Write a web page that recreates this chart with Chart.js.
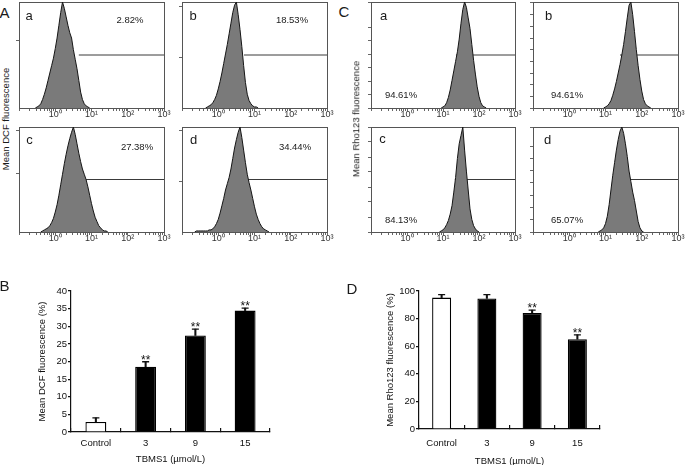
<!DOCTYPE html>
<html><head><meta charset="utf-8">
<script src="https://cdn.jsdelivr.net/npm/chart.js@4.4.1/dist/chart.umd.min.js"></script>
<style>
html,body{margin:0;padding:0;background:#fff;}
body{width:685px;height:465px;position:relative;overflow:hidden;font-family:"Liberation Sans",Arial,sans-serif;color:#1a1a1a;}
canvas.cv{position:absolute;}
.t{position:absolute;white-space:nowrap;transform:translateX(-50%);}
.r{position:absolute;white-space:nowrap;transform:translate(-50%,-50%) rotate(-90deg);line-height:1;}
</style></head><body>
<script>
// ---------- DATA ----------
const BIN_STEP = 0.05;           // histogram bin width (log10 decades)
const GATE_LEVEL = 50;           // height of the gate marker (% of peak)

// DCF histograms (counts, % of peak) and the log10 value of their first bin
const dcf_a = [0,1,2,4,8,13,19,26,33,40,47,56,66,78,90,100,94,86,78,71,66,55,46,37,26,15,8,4,2,1,0];
const dcf_b = [0,1,2,3,5,8,12,18,25,33,42,51,60,70,80,90,97,100,88,74,58,40,24,13,7,4,2,1,1,0];
const dcf_c = [0,1,2,3,4,6,9,13,19,26,35,45,55,65,74,82,89,95,100,93,84,75,67,60,55,50,43,35,27,20,14,10,6,4,2,1,1,0];
const dcf_d = [0,1,1,1,1,1,1,1,2,2,3,5,8,12,18,25,32,40,46,52,60,70,80,88,95,100,90,78,66,55,47,40,32,24,17,12,8,5,3,2,1,0];
const dcfStart = [-0.55, -0.35, -0.4, -0.65];
const dcfGate = [0.65, 0.71, 0.78, 0.79];
const dcfPercent = ['2.82%', '18.53%', '27.38%', '34.44%'];
const dcfYTicks = [[64], [48, 96], [56, 97], [48, 97]];

// Rho123 histograms
const rho_a = [0,1,2,5,10,17,26,35,44,53,65,80,93,100,95,85,75,60,45,32,20,11,5,2,1,0];
const rho_b = [0,1,2,4,7,12,18,25,33,41,50,60,72,85,97,100,88,72,55,40,27,16,8,4,2,1,0];
const rho_c = [0,1,2,4,7,11,17,25,38,52,70,84,92,100,78,58,40,22,12,6,3,1,0];
const rho_d = [0,1,2,4,8,15,26,40,54,66,78,88,96,100,94,84,72,58,48,38,30,20,10,4,1,0];
const rhoStart = [0.95, 0.95, 0.9, 0.8];
const rhoGate = [1.36, 1.40, 1.33, 1.40];
const rhoPercent = ['94.61%', '94.61%', '84.13%', '65.07%'];
const rhoYStep = [12.7, 11, 14.3, 11.7];

const panelLetters = ['a', 'b', 'c', 'd'];
const histDecades = [0, 1, 2, 3];

// Bar charts
const groups = ['Control', '3', '9', '15'];
const dcfMean = [2.82, 18.53, 27.38, 34.44];
const dcfErr = [1.2, 1.4, 1.8, 0.7];
const dcfSig = [false, true, true, true];
const rhoMean = [95.2, 94.61, 84.13, 65.07];
const rhoErr = [2.2, 2.8, 2.0, 3.2];
const rhoSig = [false, false, true, true];

// ---------- RENDER ----------
Chart.defaults.font.family = '"Liberation Sans", Arial, sans-serif';
Chart.defaults.color = '#1a1a1a';
Chart.defaults.animation = false;

const SUP = ['⁰', '¹', '²', '³'];
const logTickValues = [];
for (let k = -1; k < 3; k++) for (let m = 1; m < 10; m++) logTickValues.push(k + Math.log10(m));
logTickValues.push(3);

function addText(s, x, baseline, size, extra) {
  const d = document.createElement('div');
  d.className = 't';
  d.textContent = s;
  d.style.fontSize = size + 'px';
  d.style.lineHeight = size + 'px';
  d.style.left = x + 'px';
  d.style.top = (baseline - 0.8465 * size) + 'px';
  if (extra) Object.assign(d.style, extra);
  document.body.appendChild(d);
}
function addRotated(s, x, y, size) {
  const d = document.createElement('div');
  d.className = 'r';
  d.textContent = s;
  d.style.fontSize = size + 'px';
  d.style.left = x + 'px';
  d.style.top = y + 'px';
  document.body.appendChild(d);
}
function makeCanvas(left, top, w, h) {
  const cv = document.createElement('canvas');
  cv.width = w; cv.height = h;
  cv.className = 'cv';
  cv.style.left = left + 'px'; cv.style.top = top + 'px';
  cv.style.width = w + 'px'; cv.style.height = h + 'px';
  document.body.appendChild(cv);
  return cv;
}

function makeHist(box, counts, start, gate, yTicks, yStep) {
  const [L, T, R, B] = box;
  const cv = makeCanvas(L - 6, T - 2, (R - L) + 14, (B - T) + 19);
  const pts = counts.map((c, i) => ({x: start + i * BIN_STEP, y: c}));
  const axisCol = '#555';
  new Chart(cv, {
    type: 'line',
    data: {datasets: [
      {data: pts, borderColor: '#151515', borderWidth: 1, backgroundColor: 'rgb(122,122,122)', fill: 'origin', pointRadius: 0, tension: 0},
      {data: [{x: gate, y: GATE_LEVEL}, {x: 3, y: GATE_LEVEL}], borderColor: '#3a3a3a', borderWidth: 1, pointRadius: 0, fill: false}
    ]},
    options: {
      responsive: false, animation: false, events: [],
      plugins: {legend: {display: false}, tooltip: {enabled: false}},
      layout: {padding: {left: 0, top: 2, right: 8, bottom: 0}},
      scales: {
        x: {type: 'linear', min: -1, max: 3,
          afterBuildTicks: s => { s.ticks = logTickValues.map(v => ({value: v})); },
          ticks: {autoSkip: false, maxRotation: 0, padding: -2, font: {size: 9}, color: '#333',
            callback: v => { const r = Math.round(v); return (Math.abs(v - r) < 1e-6 && histDecades.includes(r)) ? '10' + SUP[r] : ''; }},
          grid: {drawOnChartArea: false, tickLength: 3, color: '#666'},
          border: {color: axisCol, width: 1},
          afterFit: s => { s.height = 17; }},
        y: {min: 0, max: 100,
          afterBuildTicks: s => { if (yTicks) s.ticks = yTicks.map(v => ({value: v})); },
          ticks: {display: false, stepSize: yStep || 50},
          grid: {drawOnChartArea: false, tickLength: 3, color: '#666'},
          border: {color: axisCol, width: 1},
          afterFit: s => { s.width = 6; }},
        x2: {type: 'linear', position: 'top', ticks: {display: false}, grid: {display: false}, border: {color: axisCol, width: 1}, afterFit: s => { s.height = 0; }},
        y2: {type: 'linear', position: 'right', ticks: {display: false}, grid: {display: false}, border: {color: axisCol, width: 1}, afterFit: s => { s.width = 0; }}
      }
    }
  });
}

function makeBar(pos, mean, err, sig, yMax, yStep, yTitle, lay) {
  const cv = makeCanvas(pos[0], pos[1], pos[2], pos[3]);
  const starPlugin = {
    id: 'stars',
    afterDatasetsDraw(chart) {
      const {ctx} = chart; const x = chart.scales.x, y = chart.scales.y;
      ctx.save();
      ctx.font = '12px "Liberation Sans", Arial, sans-serif';
      ctx.textAlign = 'center'; ctx.textBaseline = 'alphabetic'; ctx.fillStyle = '#111';
      sig.forEach((f, i) => { if (f) ctx.fillText('**', x.getPixelForValue(i), y.getPixelForValue(mean[i] + err[i]) + 2); });
      ctx.restore();
    }
  };
  const ink = '#111';
  new Chart(cv, {
    type: 'bar',
    data: {labels: groups, datasets: [
      {type: 'line', data: mean.map((m, i) => m + err[i]), showLine: false, pointStyle: 'line', pointRadius: 3.5, pointBorderWidth: 1.3, pointBorderColor: ink, order: 0},
      {data: mean.map((m, i) => [m, m + err[i]]), backgroundColor: ink, borderWidth: 0, barThickness: 1.4, grouped: false, order: 1},
      {data: mean, backgroundColor: groups.map((g, i) => i === 0 ? '#ffffff' : '#000000'), borderColor: '#000', borderWidth: 1.3, barPercentage: 0.42, categoryPercentage: 1, grouped: false, order: 2}
    ]},
    plugins: [starPlugin],
    options: {
      responsive: false, animation: false, events: [],
      plugins: {legend: {display: false}, tooltip: {enabled: false}},
      layout: {padding: {left: 0, top: lay.top, right: lay.right, bottom: 0}},
      scales: {
        x: {offset: true,
          grid: {offset: true, drawOnChartArea: false, tickLength: -4, color: ink, lineWidth: 1.2},
          border: {color: ink, width: 1.2},
          ticks: {font: {size: 9.5}, color: ink, padding: lay.xPad, maxRotation: 0},
          title: {display: true, text: 'TBMS1 (µmol/L)', font: {size: 9.5}, color: ink, padding: {top: 0, bottom: 0}},
          afterFit: s => { s.height = lay.xH; }},
        y: {min: 0, max: yMax,
          ticks: {stepSize: yStep, font: {size: 9.5}, color: ink, padding: 1},
          grid: {drawOnChartArea: false, tickLength: 3, color: ink, lineWidth: 1.2},
          border: {color: ink, width: 1.2},
          title: {display: true, text: yTitle, font: {size: 9.5}, color: ink, padding: {top: lay.tPad, bottom: 0}},
          afterFit: s => { s.width = lay.yW; }}
      }
    }
  });
}

// Histogram boxes [left, top, right, bottom]
const dcfBoxes = [[19, 2, 164, 108], [182, 2, 327, 108], [19, 127, 164, 232], [182, 127, 327, 232]];
const rhoBoxes = [[371, 2, 515, 108], [533, 2, 678, 108], [371, 127, 515, 232], [533, 127, 678, 232]];
const dcfHists = [dcf_a, dcf_b, dcf_c, dcf_d];
const rhoHists = [rho_a, rho_b, rho_c, rho_d];

dcfHists.forEach((h, i) => makeHist(dcfBoxes[i], h, dcfStart[i], dcfGate[i], dcfYTicks[i], null));
rhoHists.forEach((h, i) => makeHist(rhoBoxes[i], h, rhoStart[i], rhoGate[i], null, rhoYStep[i]));

makeBar([0, 270, 300, 195], dcfMean, dcfErr, dcfSig, 40, 5, 'Mean DCF fluorescence (%)',
  {top: 21, right: 30, xH: 33, yW: 71, xPad: 10, tPad: 36.6});
makeBar([340, 270, 300, 197], rhoMean, rhoErr, rhoSig, 100, 20, 'Mean Rho123 fluorescence (%)',
  {top: 21, right: 40, xH: 38, yW: 79, xPad: 12.6, tPad: 44.6});

// Text labels
addText('A', 4.5, 18, 15);
addText('C', 344, 17, 15);
addText('B', 4.5, 291, 15);
addText('D', 352, 294, 15);
const dcfLetterPos = [[29, 20], [193, 20], [29.5, 144], [193.5, 144]];
const rhoLetterPos = [[383.5, 20], [548.5, 20], [382.5, 143], [547.5, 144]];
const dcfPctPos = [[130, 23], [292, 23], [137, 150], [295, 150]];
const rhoPctPos = [[401, 98], [567, 98], [401, 223], [567, 223]];
panelLetters.forEach((l, i) => {
  addText(l, dcfLetterPos[i][0], dcfLetterPos[i][1], 13);
  addText(l, rhoLetterPos[i][0], rhoLetterPos[i][1], 13);
  addText(dcfPercent[i], dcfPctPos[i][0], dcfPctPos[i][1], 9.5);
  addText(rhoPercent[i], rhoPctPos[i][0], rhoPctPos[i][1], 9.5);
});
addRotated('Mean DCF fluorescence', 5.5, 119, 9.5);
addRotated('Mean Rho123 fluorescence', 355.5, 119, 9.5);
</script>
</body></html>
